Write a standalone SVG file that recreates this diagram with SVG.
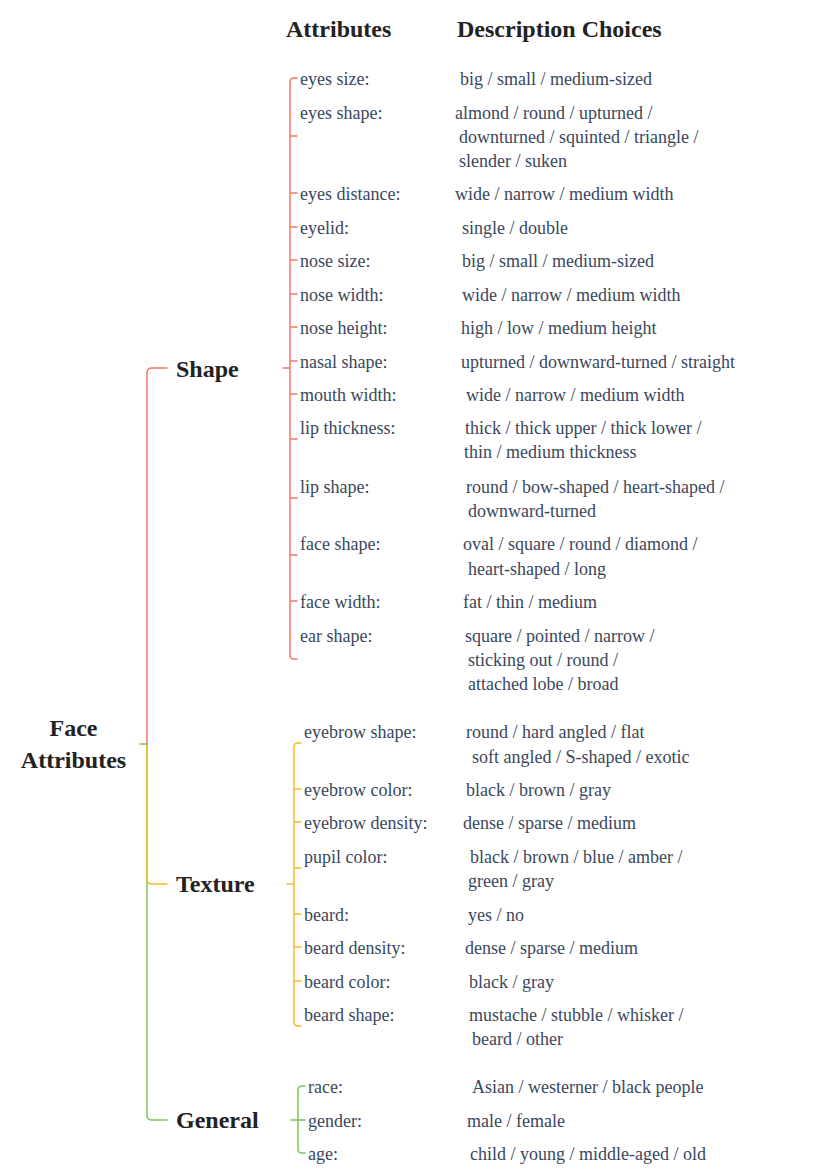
<svg xmlns="http://www.w3.org/2000/svg" width="831" height="1175" viewBox="0 0 831 1175">
<style>
.h{font-family:"Liberation Serif","Times New Roman",serif;font-weight:bold;font-size:24px;fill:#222}
.t{font-family:"Liberation Serif","Times New Roman",serif;font-size:18px;fill:#3a475c}
.c{fill:none;stroke-width:1.5;stroke-linecap:round;stroke-linejoin:round}
.r{stroke:#f4776a}.y{stroke:#f7b92b}.g{stroke:#80c45a}
</style>
<rect width="831" height="1175" fill="#fff"/>
<g id="connectors">
<path class="c g" d="M147,744 V1115 Q147,1120 152,1120 H167"/>
<path class="c y" d="M147,744 V879 Q147,884 152,884 H167"/>
<path class="c r" d="M147,744 V373 Q147,368 152,368 H167"/>
<path class="c g" d="M140,744 H147"/>
<path class="c r" d="M283,368 H290 M297,78 H294 Q290,78 290,82 V655 Q290,659 294,659 H297 M290,136 H297 M290,193 H297 M290,227 H297 M290,260 H297 M290,294 H297 M290,327 H297 M290,361 H297 M290,394 H297 M290,439 H297 M290,498 H297 M290,555 H297 M290,601 H297"/>
<path class="c y" d="M287,884 H294 M301,743 H298 Q294,743 294,747 V1022 Q294,1026 298,1026 H301 M294,789 H301 M294,822 H301 M294,868 H301 M294,914 H301 M294,947 H301 M294,981 H301"/>
<path class="c g" d="M291,1120 H298 M305,1086 H302 Q298,1086 298,1090 V1149 Q298,1153 302,1153 H305 M298,1120 H305"/>
</g>
<g id="headers">
<text class="h" x="286" y="37">Attributes</text>
<text class="h" x="457" y="37">Description Choices</text>
</g>
<g id="root"><text class="h" x="73.5" y="736" text-anchor="middle">Face</text><text class="h" x="73.5" y="768" text-anchor="middle">Attributes</text></g>
<g id="shape"><text class="h" x="176" y="377">Shape</text></g>
<g id="texture"><text class="h" x="176" y="892">Texture</text></g>
<g id="general"><text class="h" x="176" y="1128">General</text></g>
<g id="shape-items">
<text class="t" x="300" y="85">eyes size:</text><text class="t" x="460" y="85">big / small / medium-sized</text>
<text class="t" x="300" y="119">eyes shape:</text><text class="t" x="455" y="119">almond / round / upturned /</text><text class="t" x="459" y="143">downturned / squinted / triangle /</text><text class="t" x="459" y="167">slender / suken</text>
<text class="t" x="300" y="200">eyes distance:</text><text class="t" x="455" y="200">wide / narrow / medium width</text>
<text class="t" x="300" y="234">eyelid:</text><text class="t" x="462" y="234">single / double</text>
<text class="t" x="300" y="267">nose size:</text><text class="t" x="462" y="267">big / small / medium-sized</text>
<text class="t" x="300" y="301">nose width:</text><text class="t" x="462" y="301">wide / narrow / medium width</text>
<text class="t" x="300" y="334">nose height:</text><text class="t" x="461" y="334">high / low / medium height</text>
<text class="t" x="300" y="368">nasal shape:</text><text class="t" x="461" y="368">upturned / downward-turned / straight</text>
<text class="t" x="300" y="401">mouth width:</text><text class="t" x="466" y="401">wide / narrow / medium width</text>
<text class="t" x="300" y="434">lip thickness:</text><text class="t" x="465" y="434">thick / thick upper / thick lower /</text><text class="t" x="464" y="458">thin / medium thickness</text>
<text class="t" x="300" y="493">lip shape:</text><text class="t" x="466" y="493">round / bow-shaped / heart-shaped /</text><text class="t" x="468" y="517">downward-turned</text>
<text class="t" x="300" y="550">face shape:</text><text class="t" x="463" y="550">oval / square / round / diamond /</text><text class="t" x="468" y="575">heart-shaped / long</text>
<text class="t" x="300" y="608">face width:</text><text class="t" x="463" y="608">fat / thin / medium</text>
<text class="t" x="300" y="642">ear shape:</text><text class="t" x="465" y="642">square / pointed / narrow /</text><text class="t" x="468" y="666">sticking out / round /</text><text class="t" x="468" y="690">attached lobe / broad</text>
</g>
<g id="texture-items">
<text class="t" x="304" y="738">eyebrow shape:</text><text class="t" x="466" y="738">round / hard angled / flat</text><text class="t" x="472" y="763">soft angled / S-shaped / exotic</text>
<text class="t" x="304" y="796">eyebrow color:</text><text class="t" x="466" y="796">black / brown / gray</text>
<text class="t" x="304" y="829">eyebrow density:</text><text class="t" x="463" y="829">dense / sparse / medium</text>
<text class="t" x="304" y="863">pupil color:</text><text class="t" x="470" y="863">black / brown / blue / amber /</text><text class="t" x="468" y="887">green / gray</text>
<text class="t" x="304" y="921">beard:</text><text class="t" x="468" y="921">yes / no</text>
<text class="t" x="304" y="954">beard density:</text><text class="t" x="465" y="954">dense / sparse / medium</text>
<text class="t" x="304" y="988">beard color:</text><text class="t" x="469" y="988">black / gray</text>
<text class="t" x="304" y="1021">beard shape:</text><text class="t" x="469" y="1021">mustache / stubble / whisker /</text><text class="t" x="472" y="1045">beard / other</text>
</g>
<g id="general-items">
<text class="t" x="308" y="1093">race:</text><text class="t" x="472" y="1093">Asian / westerner / black people</text>
<text class="t" x="308" y="1127">gender:</text><text class="t" x="467" y="1127">male / female</text>
<text class="t" x="308" y="1160">age:</text><text class="t" x="470" y="1160">child / young / middle-aged / old</text>
</g>
</svg>
